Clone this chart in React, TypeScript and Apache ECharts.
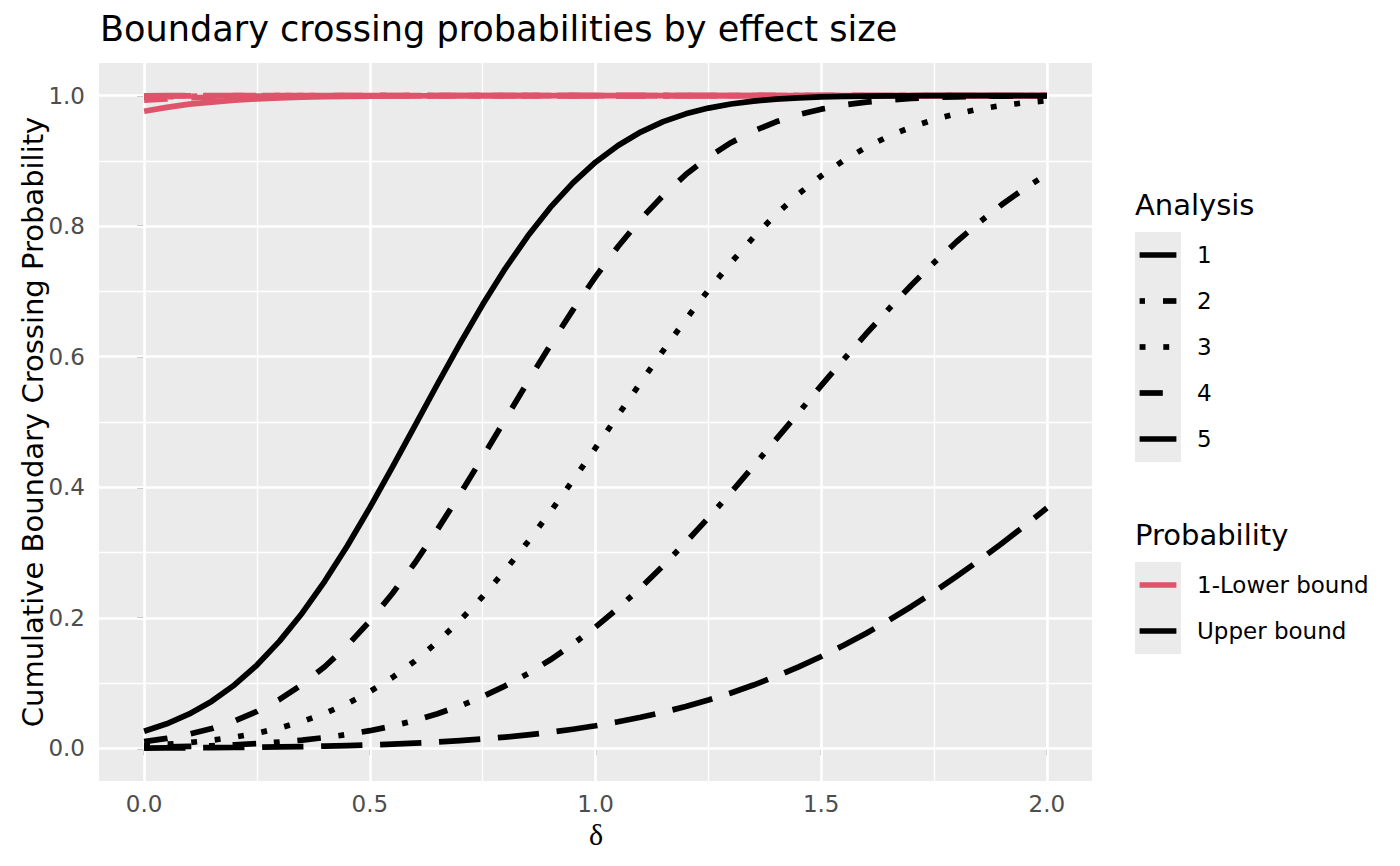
import React, { useEffect, useRef } from "react";
import * as echarts from "echarts";

// ---- data ----
const delta = [
  0, 0.05, 0.1, 0.15, 0.2, 0.25, 0.3, 0.35, 0.4, 0.45, 0.5, 0.55, 0.6, 0.65, 0.7, 0.75, 0.8, 0.85, 0.9, 0.95,
  1.0, 1.05, 1.1, 1.15, 1.2, 1.25, 1.3, 1.35, 1.4, 1.45, 1.5, 1.55, 1.6, 1.65, 1.7, 1.75, 1.8, 1.85, 1.9, 1.95, 2.0,
];

const upper1 = [
  0.0262, 0.0376, 0.0527, 0.0723, 0.0971, 0.1277, 0.1643, 0.2071, 0.2559, 0.3101, 0.3688, 0.4307, 0.4944, 0.5582,
  0.6206, 0.6799, 0.735, 0.7848, 0.8287, 0.8664, 0.898, 0.9237, 0.9442, 0.9601, 0.9721, 0.9809, 0.9872, 0.9917,
  0.9947, 0.9967, 0.998, 0.9988, 0.9993, 0.9996, 0.9998, 0.9999, 0.9999, 1.0, 1.0, 1.0, 1.0,
];
const upper2 = [
  0.0104, 0.0152, 0.0217, 0.0304, 0.0418, 0.0565, 0.0749, 0.0977, 0.1251, 0.1575, 0.1949, 0.2373, 0.2843, 0.3354,
  0.3897, 0.4463, 0.504, 0.5616, 0.6179, 0.6718, 0.7224, 0.7688, 0.8106, 0.8473, 0.879, 0.9058, 0.9279, 0.9457,
  0.9599, 0.971, 0.9793, 0.9856, 0.9901, 0.9933, 0.9956, 0.9972, 0.9982, 0.9989, 0.9993, 0.9996, 0.9998,
];
const upper3 = [
  0.0044, 0.0063, 0.0089, 0.0125, 0.0172, 0.0233, 0.0312, 0.0411, 0.0535, 0.0686, 0.0869, 0.1086, 0.1339, 0.1631,
  0.196, 0.2327, 0.2729, 0.3163, 0.3624, 0.4106, 0.4602, 0.5104, 0.5604, 0.6095, 0.6569, 0.7019, 0.7441, 0.7829,
  0.8181, 0.8494, 0.877, 0.9008, 0.921, 0.938, 0.9519, 0.9633, 0.9723, 0.9794, 0.9849, 0.9891, 0.9922,
];
const upper4 = [
  0.0015, 0.0022, 0.003, 0.004, 0.0055, 0.0073, 0.0097, 0.0127, 0.0165, 0.0212, 0.0271, 0.0342, 0.0428, 0.0531,
  0.0651, 0.0794, 0.0958, 0.1145, 0.1357, 0.1596, 0.1859, 0.2148, 0.2461, 0.2799, 0.3156, 0.3531, 0.392, 0.4325,
  0.4733, 0.5144, 0.5557, 0.596, 0.6353, 0.6733, 0.7099, 0.7441, 0.7761, 0.8057, 0.833, 0.8575, 0.8794,
];
const upper5 = [
  0.0005, 0.0006, 0.0008, 0.0011, 0.0013, 0.0017, 0.0022, 0.0027, 0.0034, 0.0043, 0.0053, 0.0065, 0.008, 0.0098,
  0.0119, 0.0144, 0.0173, 0.0207, 0.0247, 0.0293, 0.0346, 0.0407, 0.0476, 0.0554, 0.0641, 0.074, 0.0849, 0.097,
  0.1103, 0.1249, 0.1407, 0.1579, 0.1764, 0.1963, 0.2174, 0.2398, 0.2634, 0.2881, 0.3138, 0.3405, 0.3681,
];

const lower1 = [
  0.976, 0.982, 0.987, 0.99, 0.993, 0.995, 0.9965, 0.9976, 0.9984, 0.9989, 0.9993, 0.9995, 0.9997, 0.9998, 0.9999,
  1, 1, 1, 1, 1, 1, 1, 1, 1, 1, 1, 1, 1, 1, 1, 1, 1, 1, 1, 1, 1, 1, 1, 1, 1, 1,
];
const lower2 = [
  0.993, 0.995, 0.9967, 0.9978, 0.9986, 0.9991, 0.9995, 0.9997, 0.9998, 0.9999,
  1, 1, 1, 1, 1, 1, 1, 1, 1, 1, 1, 1, 1, 1, 1, 1, 1, 1, 1, 1, 1, 1, 1, 1, 1, 1, 1, 1, 1, 1, 1,
];
const lower3 = [
  0.9975, 0.9984, 0.999, 0.9994, 0.9997, 0.9998, 0.9999,
  1, 1, 1, 1, 1, 1, 1, 1, 1, 1, 1, 1, 1, 1, 1, 1, 1, 1, 1, 1, 1, 1, 1, 1, 1, 1, 1, 1, 1, 1, 1, 1, 1, 1,
];
const lower4 = [
  0.9992, 0.9995, 0.9997, 0.9998, 0.9999,
  1, 1, 1, 1, 1, 1, 1, 1, 1, 1, 1, 1, 1, 1, 1, 1, 1, 1, 1, 1, 1, 1, 1, 1, 1, 1, 1, 1, 1, 1, 1, 1, 1, 1, 1, 1,
];
const lower5 = [
  0.9998, 0.9999,
  1, 1, 1, 1, 1, 1, 1, 1, 1, 1, 1, 1, 1, 1, 1, 1, 1, 1, 1, 1, 1, 1, 1, 1, 1, 1, 1, 1, 1, 1, 1, 1, 1, 1, 1, 1, 1, 1, 1,
];

const analysisLabels = ["1", "2", "3", "4", "5"];
const probabilityLabels = ["1-Lower bound", "Upper bound"];
const xTicks = [0, 0.5, 1.0, 1.5, 2.0];
const xMinor = [0.25, 0.75, 1.25, 1.75];
const yTicks = [0, 0.2, 0.4, 0.6, 0.8, 1.0];
const yMinor = [0.1, 0.3, 0.5, 0.7, 0.9];

const upperSeries = [upper1, upper2, upper3, upper4, upper5];
const lowerSeries = [lower1, lower2, lower3, lower4, lower5];

// ---- styles ----
const RED = "#DF536B";
const BLACK = "#000000";
const LW = 5.7;
const U = 5.9;
const dashes: any[] = ["solid", [4 * U, 4 * U], [1 * U, 3 * U], [1 * U, 3 * U, 4 * U, 3 * U], [7 * U, 3 * U]];
const FONT = "DejaVu Sans";

const G = { left: 99, top: 63, width: 993, height: 718 };

export default function App() {
  const ref = useRef<HTMLDivElement>(null);

  useEffect(() => {
    document.body.style.margin = "0";
    const chart = echarts.init(ref.current!, null, { renderer: "svg" });

    const mkSeries = (vals: number[], k: number, color: string, prefix: string, z: number) => ({
      type: "line",
      name: prefix + analysisLabels[k],
      data: delta.map((d, i) => [d, vals[i]]),
      showSymbol: false,
      symbol: "none",
      smooth: false,
      silent: true,
      z,
      lineStyle: { color, width: LW, type: dashes[k], cap: "butt", join: "round" },
    });

    const gridMarks = [
      ...xMinor.map((v) => ({ xAxis: v, lineStyle: { color: "#FFFFFF", width: 1.3, type: "solid" } })),
      ...yMinor.map((v) => ({ yAxis: v, lineStyle: { color: "#FFFFFF", width: 1.3, type: "solid" } })),
      ...xTicks.map((v) => ({ xAxis: v, lineStyle: { color: "#FFFFFF", width: 2.6, type: "solid" } })),
      ...yTicks.map((v) => ({ yAxis: v, lineStyle: { color: "#FFFFFF", width: 2.6, type: "solid" } })),
    ];

    // legend graphics
    const keyX0 = 1135;
    const keyW = 46;
    const keyH = 46;
    const lineX0 = 1139.6;
    const lineX1 = 1176.4;
    const labelX = 1197;
    const aTop = 232;
    const pTop = 562;
    // visible key segments as drawn in the reference legend
    const keySegments: number[][][] = [
      [[1139.6, 1176.4]],
      [[1139.6, 1145], [1163, 1176.4]],
      [[1139.6, 1145.5], [1163.3, 1169.2]],
      [[1139.6, 1162.8]],
      [[1139.6, 1176.4]],
    ];

    const graphics: any[] = [
      {
        type: "text",
        x: 100,
        y: 28.5,
        style: { text: "Boundary crossing probabilities by effect size", fill: "#000", fontSize: 35.1, fontFamily: FONT, textAlign: "left", textVerticalAlign: "middle" },
      },
      {
        type: "text",
        x: 33,
        y: G.top + G.height / 2,
        rotation: Math.PI / 2,
        style: { text: "Cumulative Boundary Crossing Probability", fill: "#000", fontSize: 29, fontFamily: FONT, textAlign: "center", textVerticalAlign: "middle" },
      },
      {
        type: "text",
        x: 596,
        y: 834,
        style: { text: "δ", fill: "#000", fontSize: 30, fontFamily: "Liberation Serif", textAlign: "center", textVerticalAlign: "middle" },
      },
      {
        type: "text",
        x: keyX0,
        y: 205,
        style: { text: "Analysis", fill: "#000", fontSize: 29, fontFamily: FONT, textAlign: "left", textVerticalAlign: "middle" },
      },
      { type: "rect", shape: { x: keyX0, y: aTop, width: keyW, height: keyH * 5 }, style: { fill: "#EBEBEB" } },
      {
        type: "text",
        x: keyX0,
        y: 535,
        style: { text: "Probability", fill: "#000", fontSize: 29, fontFamily: FONT, textAlign: "left", textVerticalAlign: "middle" },
      },
      { type: "rect", shape: { x: keyX0, y: pTop, width: keyW, height: keyH * 2 }, style: { fill: "#EBEBEB" } },
    ];

    analysisLabels.forEach((lab, k) => {
      const cy = aTop + keyH / 2 + keyH * k;
      keySegments[k].forEach((seg) => {
        graphics.push({
          type: "line",
          shape: { x1: seg[0], y1: cy, x2: seg[1], y2: cy },
          style: { stroke: BLACK, lineWidth: LW, lineCap: "butt" },
        });
      });
      graphics.push({
        type: "text",
        x: labelX,
        y: cy,
        style: { text: lab, fill: "#000", fontSize: 23, fontFamily: FONT, textAlign: "left", textVerticalAlign: "middle" },
      });
    });
    probabilityLabels.forEach((lab, k) => {
      const cy = pTop + keyH / 2 + keyH * k;
      graphics.push({
        type: "line",
        shape: { x1: lineX0, y1: cy, x2: lineX1, y2: cy },
        style: { stroke: k === 0 ? RED : BLACK, lineWidth: LW, lineCap: "butt" },
      });
      graphics.push({
        type: "text",
        x: labelX,
        y: cy,
        style: { text: lab, fill: "#000", fontSize: 23, fontFamily: FONT, textAlign: "left", textVerticalAlign: "middle" },
      });
    });

    const option: any = {
      animation: false,
      backgroundColor: "#FFFFFF",
      grid: { ...G, show: true, backgroundColor: "#EBEBEB", borderWidth: 0, containLabel: false },
      xAxis: {
        type: "value",
        min: -0.1,
        max: 2.1,
        axisLine: { show: false },
        splitLine: { show: false },
        axisTick: { show: true, length: 7, customValues: xTicks, lineStyle: { color: "#333333", width: 2 } },
        axisLabel: {
          show: true,
          customValues: xTicks,
          formatter: (v: number) => v.toFixed(1),
          color: "#4D4D4D",
          fontSize: 23,
          fontFamily: FONT,
          margin: 11,
        },
      },
      yAxis: {
        type: "value",
        min: -0.05,
        max: 1.05,
        axisLine: { show: false },
        splitLine: { show: false },
        axisTick: { show: true, length: 7, customValues: yTicks, lineStyle: { color: "#333333", width: 2 } },
        axisLabel: {
          show: true,
          customValues: yTicks,
          formatter: (v: number) => v.toFixed(1),
          color: "#4D4D4D",
          fontSize: 23,
          fontFamily: FONT,
          margin: 14,
        },
      },
      series: [
        {
          type: "line",
          name: "grid",
          data: [],
          silent: true,
          z: 1,
          markLine: {
            silent: true,
            animation: false,
            z: 1,
            symbol: ["none", "none"],
            label: { show: false },
            emphasis: { disabled: true },
            data: gridMarks,
          },
        },
        ...lowerSeries.map((v, k) => mkSeries(v, k, RED, "L", 3)),
        ...upperSeries.map((v, k) => mkSeries(v, k, BLACK, "U", 4)),
      ],
      graphic: graphics,
    };

    chart.setOption(option);
    return () => chart.dispose();
  }, []);

  return <div ref={ref} style={{ width: 1400, height: 866 }} />;
}
